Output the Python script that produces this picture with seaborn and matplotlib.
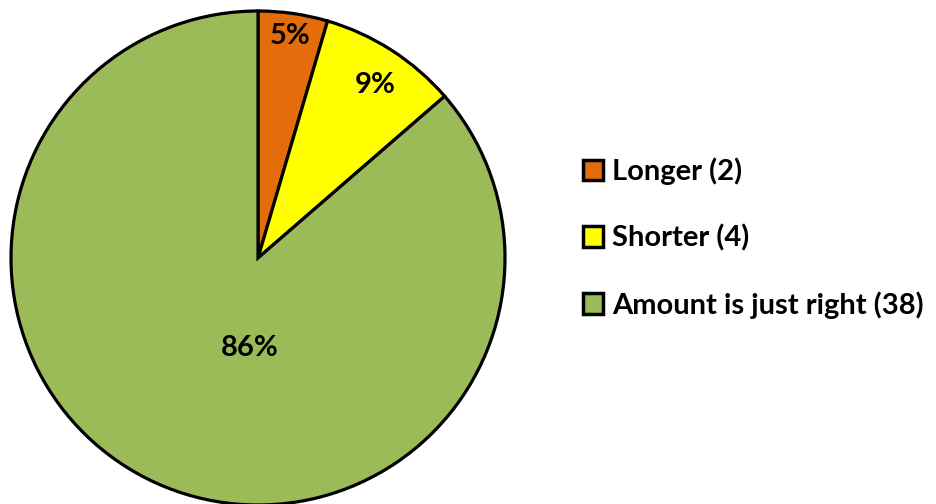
import matplotlib
matplotlib.use("Agg")
import matplotlib.pyplot as plt
import seaborn as sns
import numpy as np
from matplotlib.patches import Patch

categories = ["Longer (2)", "Shorter (4)", "Amount is just right (38)"]
counts = [2, 4, 38]
pct_labels = ["5%", "9%", "86%"]
colors = ["#E46C0A", "#FFFF00", "#9BBB59"]

sns.set_theme(style="white")
plt.rcParams['font.family'] = ['Lato', 'DejaVu Sans']
plt.rcParams['text.color'] = 'black'

fig = plt.figure(figsize=(9.37, 5.04), dpi=100)
W, H = 937, 504
cx, cy, r = 258, 258, 247
ax = fig.add_axes([(cx - r) / W, (H - cy - r) / H, 2 * r / W, 2 * r / H])

wedges, _ = ax.pie(counts, colors=colors, startangle=90, counterclock=False,
                   radius=1.0,
                   wedgeprops=dict(edgecolor="black", linewidth=2.3, clip_on=False))
ax.set_xlim(-1, 1)
ax.set_ylim(-1, 1)
ax.set_aspect("equal")
ax.axis("off")

# label placement (style): radial distance and angle shift relative to wedge middle
label_dist = [0.907, 0.845, 0.365]
label_shift = [0.0, -1.3, 19.5]
for w, lab, d, s in zip(wedges, pct_labels, label_dist, label_shift):
    mid = np.deg2rad((w.theta1 + w.theta2) / 2 + s)
    ax.text(d * np.cos(mid), d * np.sin(mid), lab, ha="center", va="center",
            fontsize=21, fontweight="bold", color="black")

handles = [Patch(facecolor=c, edgecolor="black", linewidth=2.5) for c in colors]
fig.legend(handles, categories, loc="center left", bbox_to_anchor=(583 / W, 1 - 238 / H),
           frameon=False, prop=dict(size=21, weight="bold"), labelcolor="black",
           handlelength=0.7, handleheight=0.7, handletextpad=0.3, labelspacing=1.35,
           borderpad=0, borderaxespad=0)

fig.savefig("out.png", dpi=100)
